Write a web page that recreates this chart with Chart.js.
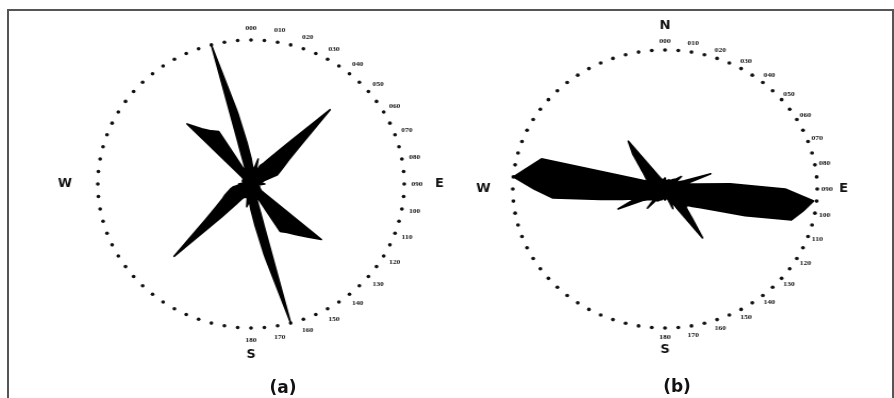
<!DOCTYPE html>
<html><head><meta charset="utf-8">
<script src="https://cdn.jsdelivr.net/npm/chart.js@4"></script>
<style>
html,body{margin:0;padding:0;background:#fff;}
#wrap{position:relative;width:894px;height:398px;overflow:hidden;background:#fff;}
#frame{position:absolute;left:7px;top:9px;width:883px;height:420px;border:2px solid #555;border-bottom:none;}
canvas{position:absolute;left:0;top:0;}
#ca{transform-origin:251px 184px;transform:scaleX(1.064);}
#cb{transform-origin:665px 189px;transform:scaleX(1.095);}
.cap{position:absolute;font:bold 17px "DejaVu Sans",sans-serif;color:#111;transform:translateX(-50%);white-space:nowrap;}
</style></head><body>
<div id="wrap">
<div id="frame"></div>
<canvas id="ca" width="894" height="398"></canvas>
<canvas id="cb" width="894" height="398"></canvas>
<div class="cap" style="left:283px;top:377px">(a)</div>
<div class="cap" style="left:677px;top:376px">(b)</div>
</div>
<script>
// direction bins (degrees, clockwise from north)
const angles = [0,5,10,15,20,25,30,35,40,45,50,55,60,65,70,75,80,85,90,95,100,105,110,115,
  120,125,130,135,140,145,150,155,160,165,170,175,180,185,190,195,200,205,210,215,220,225,230,235,
  240,245,250,255,260,265,270,275,280,285,290,295,300,305,310,315,320,325,330,335,340,345,350,355];

// rose (a): relative frequency, outer dotted circle = 100
const roseA = [18,12,10,18,9,14,17,23,36,73,43,31,25,21,18,9,7,7,9,6,5,5,6,6,
  7,8,60,52,46,41,38,12,10,100,50,28,18,12,16,9,10,10,12,17,30,71,39,28,
  22,19,16,14,12,8,8,6,5,5,6,6,6,6,8,59,50,45,42,12,10,100,50,28];

// rose (b)
const roseB = [8,6,6,6,7,7,7,8,9,10,14,9,10,14,32,14,21,43,79,98,92,86,56,36,
  27,22,18,20,28,43,17,10,15,8,7,7,8,7,7,8,8,9,10,9,18,10,12,13,
  16,34,21,29,43,74,86,100,91,84,23,13,14,16,19,24,33,42,17,11,8,7,7,7];

const degreeLabels = ['000','010','020','030','040','050','060','070','080','090',
  '100','110','120','130','140','150','160','170','180'];
const compassA = ['E','S','W'];
const compassADeg = [90,180,270];
const compassB = ['N','E','S','W'];
const compassBDeg = [0,90,180,270];

const decor = {
  id: 'decor',
  beforeDatasetsDraw(chart, args, opts) {
    const s = chart.scales.r, ctx = chart.ctx;
    const n = chart.data.labels.length;
    const step = 360 / n;
    ctx.save();
    ctx.fillStyle = '#111';
    for (let i = 0; i < n; i++) {
      const p = s.getPointPosition(i, s.drawingArea);
      ctx.beginPath(); ctx.arc(p.x, p.y, 1.8, 0, Math.PI * 2); ctx.fill();
    }
    ctx.textAlign = 'center'; ctx.textBaseline = 'middle';
    ctx.font = 'bold 7px "Liberation Serif", serif';
    degreeLabels.forEach(t => {
      const p = s.getPointPosition(parseInt(t, 10) / step, s.drawingArea + opts.labelGap);
      ctx.fillText(t, p.x, p.y);
    });
    ctx.font = 'bold 12px "DejaVu Sans", sans-serif';
    opts.letters.forEach((t, k) => {
      const d = opts.letterDeg[k];
      const gap = opts.letterGap[d] !== undefined ? opts.letterGap[d] : opts.letterGap.def;
      const p = s.getPointPosition(d / step, s.drawingArea + gap);
      ctx.fillText(t, p.x, p.y);
    });
    ctx.restore();
  }
};

function makeChart(id, values, R, cx, cy, decorOpts) {
  const W = 894, H = 398;
  return new Chart(document.getElementById(id), {
    type: 'radar',
    data: {
      labels: angles.map(String),
      datasets: [{
        data: values, backgroundColor: '#000', borderColor: '#000', borderWidth: 1.6,
        borderJoinStyle: 'round', pointRadius: 0, pointHoverRadius: 0, fill: true, tension: 0, clip: false
      }]
    },
    options: {
      responsive: false, animation: false, events: [],
      layout: { padding: { left: cx - R, right: W - cx - R, top: cy - R, bottom: H - cy - R } },
      scales: {
        r: {
          min: 0, max: 100, startAngle: 0,
          ticks: { display: false }, grid: { display: false },
          angleLines: { display: false }, pointLabels: { display: false }
        }
      },
      plugins: { legend: { display: false }, tooltip: { enabled: false }, decor: decorOpts }
    },
    plugins: [decor]
  });
}

makeChart('ca', roseA, 144, 251, 184, {
  labelGap: 12, letters: compassA, letterDeg: compassADeg,
  letterGap: { def: 31, 90: 33, 180: 27, 270: 31 }
});
makeChart('cb', roseB, 139, 665, 189, {
  labelGap: 9, letters: compassB, letterDeg: compassBDeg,
  letterGap: { def: 24, 0: 24, 90: 24, 180: 22, 270: 27 }
});
</script>
</body></html>
